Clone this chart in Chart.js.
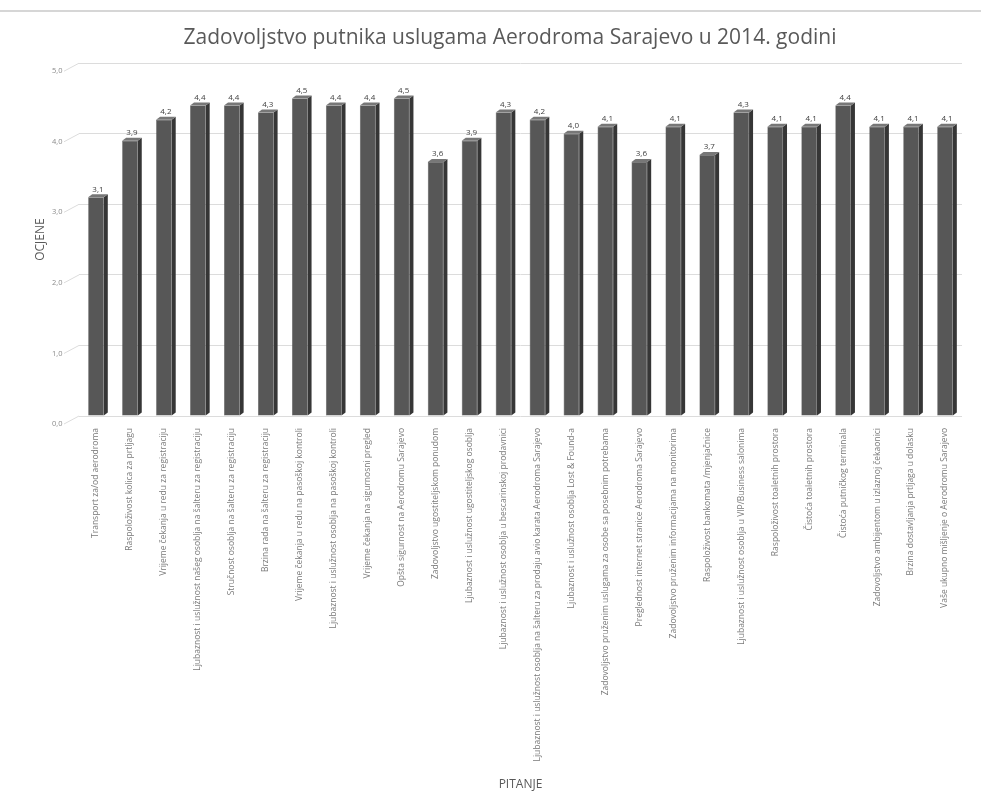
<!DOCTYPE html>
<html>
<head>
<meta charset="utf-8">
<title>Zadovoljstvo putnika 2014</title>
<script src="https://cdn.jsdelivr.net/npm/chart.js@4/dist/chart.umd.min.js"></script>
<style>
  html, body { margin: 0; padding: 0; background: #ffffff; }
  #wrap { position: relative; width: 981px; height: 803px; }
  canvas { display: block; }
</style>
</head>
<body>
<div id="wrap"><canvas id="c" width="981" height="803"></canvas></div>
<script>
// Survey questions (x axis categories)
const pitanja = [
  "Transport za/od aerodroma",
  "Raspoloživost kolica za prtljagu",
  "Vrijeme čekanja u redu za registraciju",
  "Ljubaznost i uslužnost našeg osoblja na šalteru za registraciju",
  "Stručnost osoblja na šalteru za registraciju",
  "Brzina rada na šalteru za registraciju",
  "Vrijeme čekanja u redu na pasoškoj kontroli",
  "Ljubaznost i uslužnost osoblja na pasoškoj kontroli",
  "Vrijeme čekanja na sigurnosni pregled",
  "Opšta sigurnost na Aerodromu Sarajevo",
  "Zadovoljstvo ugostiteljskom ponudom",
  "Ljubaznost i uslužnost ugostiteljskog osoblja",
  "Ljubaznost i uslužnost osoblja u bescarinskoj prodavnici",
  "Ljubaznost i uslužnost osoblja na šalteru za prodaju avio karata Aerodroma Sarajevo",
  "Ljubaznost i uslužnost osoblja Lost & Found-a",
  "Zadovoljstvo pruženim uslugama za osobe sa posebnim potrebama",
  "Preglednost internet stranice Aerodroma Sarajevo",
  "Zadovoljstvo pruženim informacijama na monitorima",
  "Raspoloživost bankomata /mjenjačnice",
  "Ljubaznost i uslužnost osoblja u VIP/Business salonima",
  "Raspoloživost toaletnih prostora",
  "Čistoća toaletnih prostora",
  "Čistoća putničkog terminala",
  "Zadovoljstvo ambijentom u izlaznoj čekaonici",
  "Brzina dostavljanja prtljaga u dolasku",
  "Vaše ukupno mišljenje o Aerodromu Sarajevo"
];

// Average grade per question
const ocjene = [
  3.1, 3.9, 4.2, 4.4, 4.4, 4.3, 4.5, 4.4, 4.4, 4.5,
  3.6, 3.9, 4.3, 4.2, 4.0, 4.1, 3.6, 4.1, 3.7, 4.3,
  4.1, 4.1, 4.4, 4.1, 4.1, 4.1
];

// Grade axis ticks
const ocjenaTicks = [0, 1, 2, 3, 4, 5];

const fmt = v => v.toFixed(1).replace('.', ',');

const DX = 4, DY = 3;

// Side and top faces give the columns a little depth
const depthFaces = {
  id: 'depthFaces',
  afterDatasetsDraw(chart) {
    const ctx = chart.ctx;
    const meta = chart.getDatasetMeta(0);
    ctx.save();
    meta.data.forEach(el => {
      const { x, y, base, width } = el.getProps(['x', 'y', 'base', 'width'], true);
      const l = x - width / 2, r = x + width / 2;
      ctx.fillStyle = '#363636';
      ctx.beginPath();
      ctx.moveTo(r, y); ctx.lineTo(r + DX, y - DY);
      ctx.lineTo(r + DX, base - DY); ctx.lineTo(r, base);
      ctx.closePath(); ctx.fill();
      ctx.fillStyle = '#777777';
      ctx.beginPath();
      ctx.moveTo(l, y); ctx.lineTo(l + DX, y - DY);
      ctx.lineTo(r + DX, y - DY); ctx.lineTo(r, y);
      ctx.closePath(); ctx.fill();
    });
    ctx.restore();
  }
};

// Grade printed above each column
const valueLabels = {
  id: 'valueLabels',
  afterDatasetsDraw(chart) {
    const ctx = chart.ctx;
    const meta = chart.getDatasetMeta(0);
    const data = chart.data.datasets[0].data;
    ctx.save();
    ctx.font = '8px "Open Sans"';
    ctx.fillStyle = '#404040';
    ctx.textAlign = 'center';
    ctx.textBaseline = 'bottom';
    meta.data.forEach((el, i) => {
      ctx.fillText(fmt(data[i]), el.x + DX / 2, el.y - DY - 1);
    });
    ctx.restore();
  }
};

// Floor lines running from the grade labels to the back wall, plus the top frame line
const chrome = {
  id: 'chrome',
  beforeDatasetsDraw(chart) {
    const ctx = chart.ctx;
    const ys = chart.scales.y;
    const left = chart.chartArea.left;
    ctx.save();
    ctx.strokeStyle = '#dcdcdc';
    ctx.lineWidth = 1;
    ys.ticks.forEach(t => {
      const py = ys.getPixelForValue(t.value);
      ctx.beginPath();
      ctx.moveTo(left - 15, py + 8);
      ctx.lineTo(left, py);
      ctx.stroke();
    });
    ctx.restore();
  },
  afterDraw(chart) {
    const ctx = chart.ctx;
    ctx.save();
    ctx.strokeStyle = '#d6d6d6';
    ctx.lineWidth = 2;
    ctx.beginPath();
    ctx.moveTo(0, 11);
    ctx.lineTo(chart.width, 11);
    ctx.stroke();
    ctx.restore();
  }
};

new Chart(document.getElementById('c'), {
  type: 'bar',
  data: {
    labels: pitanja,
    datasets: [{
      data: ocjene,
      backgroundColor: '#575757',
      borderColor: '#444444',
      borderWidth: 0.5,
      barPercentage: 0.46,
      categoryPercentage: 1
    }]
  },
  options: {
    responsive: false,
    animation: false,
    layout: { padding: { left: 58, right: 19, top: 0, bottom: 7 } },
    plugins: {
      legend: { display: false },
      tooltip: { enabled: false },
      title: {
        display: true,
        text: 'Zadovoljstvo putnika uslugama Aerodroma Sarajevo u 2014. godini',
        color: '#595959',
        font: { family: '"Open Sans"', size: 21, weight: 'normal' },
        padding: { top: 25, bottom: 13 }
      }
    },
    scales: {
      x: {
        grid: { display: false, drawTicks: false },
        border: { display: false },
        ticks: {
          autoSkip: false,
          minRotation: 90,
          maxRotation: 90,
          padding: 12,
          color: '#7a7a7a',
          font: { family: '"Open Sans"', size: 8.5 }
        },
        title: {
          display: true,
          text: 'PITANJE',
          color: '#595959',
          font: { family: '"Open Sans"', size: 12 },
          padding: { top: 0, bottom: 4 }
        },
        afterFit(scale) { scale.height = 380; }
      },
      y: {
        min: ocjenaTicks[0],
        max: ocjenaTicks[ocjenaTicks.length - 1],
        afterBuildTicks(scale) { scale.ticks = ocjenaTicks.map(v => ({ value: v })); },
        grid: { color: '#dcdcdc', drawTicks: false },
        border: { display: false },
        ticks: {
          mirror: true,
          padding: -27,
          labelOffset: 8,
          color: '#8a8a8a',
          font: { family: '"Open Sans"', size: 7.5 },
          callback: v => fmt(v)
        },
        title: {
          display: true,
          text: 'OCJENE',
          color: '#595959',
          font: { family: '"Open Sans"', size: 12 },
          padding: { top: -25, bottom: 0 }
        },
        afterFit(scale) { scale.width = 21; }
      }
    }
  },
  plugins: [chrome, depthFaces, valueLabels]
});
</script>
</body>
</html>
